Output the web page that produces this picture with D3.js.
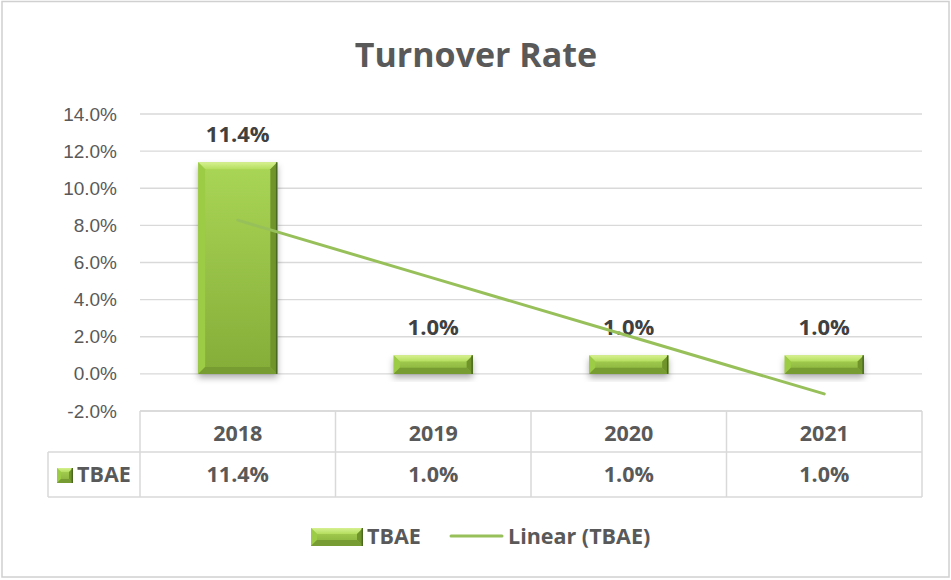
<!DOCTYPE html>
<html>
<head>
<meta charset="utf-8">
<style>
    body { margin: 0; background: #fff; }
    svg { display: block; font-family: 'Open Sans', 'DejaVu Sans', sans-serif; }
    .title { font-size: 34px; font-weight: 700; fill: #595959; }
    .y .tick text { font-size: 19px; fill: #595959; }
    .y .domain, .y .tick line { display: none; }
    .grid line { stroke: #d9d9d9; stroke-width: 1.3; }
    .datalabel { font-size: 22px; font-weight: 700; fill: #404040; }
    .cell { font-size: 21.5px; font-weight: 700; fill: #595959; }
    .legend { font-size: 21.5px; font-weight: 700; fill: #595959; }
</style>
</head>
<body>
<svg width="951" height="580"></svg>

<script src="https://d3js.org/d3.v7.min.js"></script>
<script>
    // data
    let years = ["2018", "2019", "2020", "2021"]
    let tbae = [0.114, 0.010, 0.010, 0.010]
    let yTicks = [-0.02, 0, 0.02, 0.04, 0.06, 0.08, 0.10, 0.12, 0.14]
    let seriesName = "TBAE"
    let trendName = "Linear (TBAE)"

    let svg = d3.select("svg")

    let plot = { left: 140, right: 922, top: 114, bottom: 411 }
    let rowH = [41, 45]   // table rows: header, values

    let x = d3.scaleBand()
        .domain(years)
        .range([plot.left, plot.right])

    let y = d3.scaleLinear()
        .domain([-0.02, 0.14])
        .range([plot.bottom, plot.top])

    // excel style: plain hyphen for negatives
    let fmt = d => d3.format(".1%")(d).replace("\u2212", "-")

    // outer chart border
    svg.append("rect")
        .attr("x", 2).attr("y", 1.5)
        .attr("width", 947).attr("height", 575.5)
        .attr("fill", "#fff")
        .attr("stroke", "#d0d0d0")
        .attr("stroke-width", 1.5)

    // defs: gradients + shadow
    let defs = svg.append("defs")
    let g1 = defs.append("linearGradient").attr("id", "barFace")
        .attr("x1", 0).attr("x2", 0).attr("y1", 0).attr("y2", 1)
    g1.append("stop").attr("offset", "0%").attr("stop-color", "#aad656")
    g1.append("stop").attr("offset", "100%").attr("stop-color", "#84ad38")

    let g2 = defs.append("linearGradient").attr("id", "barTop")
        .attr("x1", 0).attr("x2", 0).attr("y1", 0).attr("y2", 1)
    g2.append("stop").attr("offset", "0%").attr("stop-color", "#d6f090")
    g2.append("stop").attr("offset", "100%").attr("stop-color", "#b4de5e")

    let sh = defs.append("filter").attr("id", "shadow")
        .attr("x", "-20%").attr("y", "-20%").attr("width", "140%").attr("height", "160%")
    sh.append("feDropShadow")
        .attr("dx", 0).attr("dy", 4).attr("stdDeviation", 3)
        .attr("flood-color", "#000").attr("flood-opacity", 0.3)

    // bevelled bar helper
    function bevelBar(sel, bx, by, bw, bh, b, shadow) {
        let g = sel.append("g")
        if (shadow) g.attr("filter", "url(#shadow)")
        g.append("rect")
            .attr("x", bx).attr("y", by).attr("width", bw).attr("height", bh)
            .attr("fill", "url(#barFace)")
        let p = (pts, fill) => g.append("polygon")
            .attr("points", pts.map(d => d.join(",")).join(" "))
            .attr("fill", fill)
        p([[bx, by], [bx + bw, by], [bx + bw - b, by + b], [bx + b, by + b]], "url(#barTop)")
        p([[bx, by], [bx + b, by + b], [bx + b, by + bh - b], [bx, by + bh]], "#9ccb45")
        p([[bx + bw, by], [bx + bw, by + bh], [bx + bw - b, by + bh - b], [bx + bw - b, by + b]], "#6f942c")
        p([[bx, by + bh], [bx + bw, by + bh], [bx + bw - b, by + bh - b], [bx + b, by + bh - b]], "#779c33")
        g.append("line")
            .attr("x1", bx + bw - 0.7).attr("x2", bx + bw - 0.7)
            .attr("y1", by).attr("y2", by + bh)
            .attr("stroke", "#4a6820").attr("stroke-width", 1.4)
        return g
    }

    // title
    svg.append("text")
        .attr("class", "title")
        .attr("x", 476).attr("y", 67)
        .attr("text-anchor", "middle")
        .text("Turnover Rate")

    // gridlines
    svg.append("g")
        .attr("class", "grid")
        .selectAll("line")
        .data(yTicks)
        .join("line")
        .attr("x1", plot.left).attr("x2", plot.right)
        .attr("y1", d => y(d)).attr("y2", d => y(d))

    // y axis
    svg.append("g")
        .attr("class", "y axis")
        .attr("transform", `translate(${plot.left - 17},0)`)
        .call(d3.axisLeft(y).tickValues(yTicks).tickSize(0).tickPadding(6).tickFormat(fmt))

    // bars
    let bw = x.bandwidth() * 0.405
    let bars = svg.append("g")
    years.forEach((yr, i) => {
        let v = tbae[i]
        let bx = x(yr) + (x.bandwidth() - bw) / 2
        let bt = y(v)
        let bh = y(0) - bt
        bevelBar(bars, bx, bt, bw, bh, Math.min(7, bh / 3), true)
    })

    // data labels
    svg.append("g")
        .selectAll("text")
        .data(tbae)
        .join("text")
        .attr("class", "datalabel")
        .attr("x", (d, i) => x(years[i]) + x.bandwidth() / 2)
        .attr("y", d => y(d) - 20)
        .attr("text-anchor", "middle")
        .text(d => fmt(d))

    // trendline (least squares on the series, as Excel does) - sits above labels
    let n = tbae.length
    let xs = d3.range(1, n + 1)
    let mx = d3.mean(xs), my = d3.mean(tbae)
    let slope = d3.sum(xs, (xi, i) => (xi - mx) * (tbae[i] - my)) / d3.sum(xs, xi => (xi - mx) ** 2)
    let icpt = my - slope * mx
    let trend = xs.map(xi => icpt + slope * xi)

    svg.append("path")
        .datum(trend)
        .attr("fill", "none")
        .attr("stroke", "#98c05a")
        .attr("stroke-width", 3)
        .attr("stroke-linecap", "round")
        .attr("d", d3.line()
            .x((d, i) => x(years[i]) + x.bandwidth() / 2)
            .y(d => y(d)))

    // data table
    let table = svg.append("g")
    let t0 = plot.bottom, t1 = t0 + rowH[0], t2 = t1 + rowH[1]
    let keyLeft = 48
    let tl = (x1, y1, x2, y2) => table.append("line")
        .attr("x1", x1).attr("y1", y1).attr("x2", x2).attr("y2", y2)
        .attr("stroke", "#d9d9d9").attr("stroke-width", 1.5)
    tl(plot.left, t0, plot.right, t0)
    tl(keyLeft, t1, plot.right, t1)
    tl(keyLeft, t2, plot.right, t2)
    tl(keyLeft, t1, keyLeft, t2)
    years.forEach(yr => tl(x(yr), t0, x(yr), t2))
    tl(plot.right, t0, plot.right, t2)

    table.selectAll(".hdr")
        .data(years)
        .join("text")
        .attr("class", "cell hdr")
        .attr("x", d => x(d) + x.bandwidth() / 2)
        .attr("y", t0 + 30)
        .attr("text-anchor", "middle")
        .text(d => d)

    table.selectAll(".val")
        .data(tbae)
        .join("text")
        .attr("class", "cell val")
        .attr("x", (d, i) => x(years[i]) + x.bandwidth() / 2)
        .attr("y", t1 + 30)
        .attr("text-anchor", "middle")
        .text(d => fmt(d))

    bevelBar(table, 57, t1 + 16, 16, 15, 4, false)
    table.append("text")
        .attr("class", "cell")
        .attr("x", 77).attr("y", t1 + 30)
        .text(seriesName)

    // legend
    let legend = svg.append("g")
    bevelBar(legend, 311, 528, 52, 18, 6, false)
    legend.append("text")
        .attr("class", "legend")
        .attr("x", 367).attr("y", 544)
        .text(seriesName)
    legend.append("line")
        .attr("x1", 451).attr("x2", 502)
        .attr("y1", 536).attr("y2", 536)
        .attr("stroke", "#98c05a").attr("stroke-width", 3)
        .attr("stroke-linecap", "round")
    legend.append("text")
        .attr("class", "legend")
        .attr("x", 508).attr("y", 544)
        .text(trendName)
</script>
</body>
</html>
